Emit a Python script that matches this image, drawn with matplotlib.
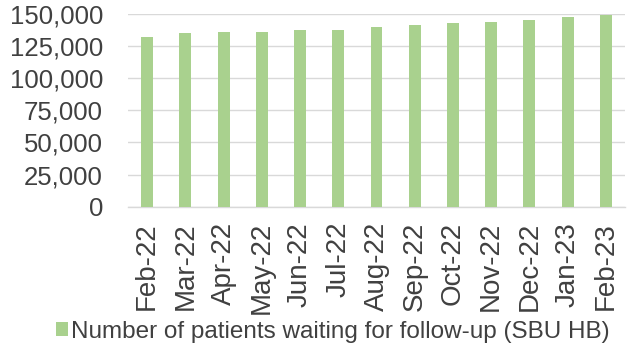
import matplotlib
matplotlib.use("Agg")
import matplotlib.pyplot as plt
from matplotlib.ticker import FuncFormatter, MultipleLocator

months = ["Feb-22", "Mar-22", "Apr-22", "May-22", "Jun-22", "Jul-22", "Aug-22",
          "Sep-22", "Oct-22", "Nov-22", "Dec-22", "Jan-23", "Feb-23"]
waiting = [132300, 134900, 136200, 136200, 137500, 137500, 140100,
           141400, 142700, 144000, 145300, 147900, 149200]
series_label = "Number of patients waiting for follow-up (SBU HB)"

bar_color = "#a9d18e"
text_color = "#404040"
grid_color = "#d9d9d9"

plt.rcParams["font.family"] = ["Liberation Sans", "DejaVu Sans"]

fig = plt.figure(figsize=(6.3, 3.46), dpi=100)
ax = fig.add_axes([128 / 630, 1 - 206.7 / 346, 497 / 630, 192.7 / 346])

x = range(len(months))
ax.bar(x, waiting, width=0.31, color=bar_color, label=series_label, zorder=3)

ax.set_xlim(-0.5, len(months) - 0.5)
ax.set_ylim(0, 150000)
ax.yaxis.set_major_locator(MultipleLocator(25000))
ax.yaxis.set_major_formatter(FuncFormatter(lambda v, _: f"{int(v):,}"))
ax.grid(axis="y", color=grid_color, linewidth=1, zorder=0)

ax.set_xticks(list(x))
ax.set_xticklabels(months, rotation=90)
ax.tick_params(axis="both", length=0, colors=text_color)
ax.tick_params(axis="y", labelsize=18.5, pad=18)
ax.tick_params(axis="x", labelsize=20, pad=11)

for side in ("top", "right", "left"):
    ax.spines[side].set_visible(False)
ax.spines["bottom"].set_color(grid_color)
ax.spines["bottom"].set_linewidth(1)

fig.legend(loc="center", bbox_to_anchor=(333 / 630, 1 - 332 / 346), frameon=False,
           fontsize=17.5, labelcolor=text_color, handlelength=0.5, handleheight=0.5,
           handletextpad=0.12, borderpad=0)

fig.savefig("out.png", dpi=100)
